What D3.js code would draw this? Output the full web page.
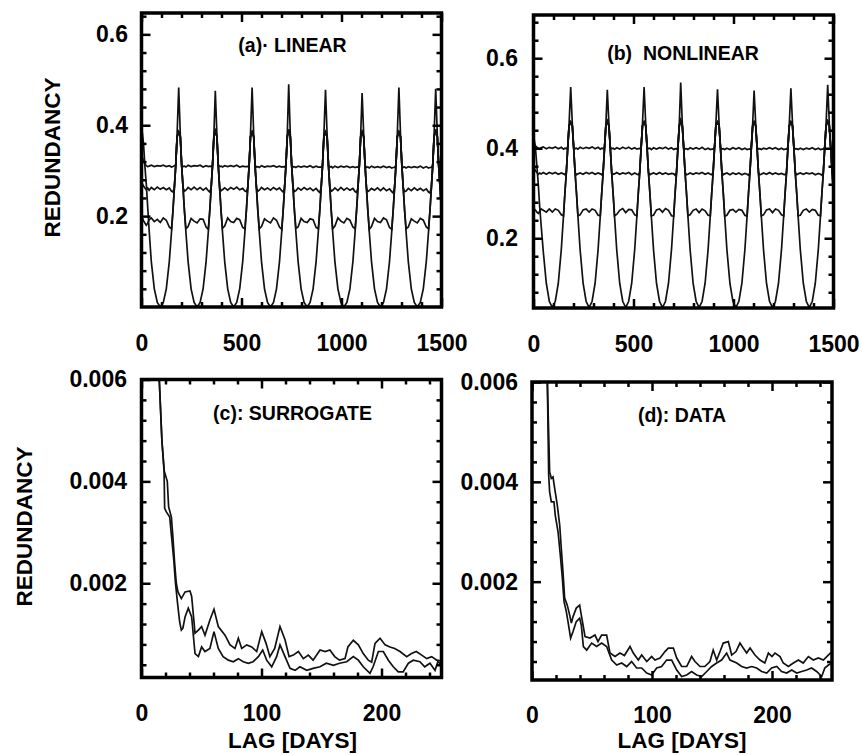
<!DOCTYPE html>
<meta charset="utf-8" />
<script src="https://d3js.org/d3.v7.min.js"></script>
<style>
  body { margin: 0; background: #fff; }
  svg text { font-family: "Liberation Sans", Arial, Helvetica, sans-serif; fill: #000; }
  .tick text { font-size: 23px; font-weight: bold; }
  .title { font-size: 19.5px; font-weight: bold; white-space: pre; }
  .axlabel { font-size: 22.5px; font-weight: bold; }
  .curve { fill: none; stroke: #111; stroke-width: 1.7px; }
</style>
<div id="fig"></div>
<script>
  // ---- (a) and (b): lag grid in days, one row per half-year cycle (trough mid-row, peak last)
  var lagAB = [0,
    10, 17, 24, 31, 38, 49, 64, 79, 94, 109, 124, 139, 150, 157, 164, 171, 178, 186,
    194, 201, 208, 215, 222, 233, 248, 263, 278, 293, 308, 323, 334, 341, 348, 355, 362, 369,
    377, 384, 391, 398, 405, 416, 431, 446, 461, 476, 491, 506, 517, 524, 531, 538, 545, 553,
    561, 568, 575, 582, 589, 600, 615, 630, 645, 660, 675, 690, 701, 708, 715, 722, 729, 736,
    744, 751, 758, 765, 772, 783, 798, 813, 828, 843, 858, 873, 884, 891, 898, 905, 912, 920,
    928, 935, 942, 949, 956, 967, 982, 997, 1012, 1027, 1042, 1057, 1068, 1075, 1082, 1089, 1096, 1103,
    1111, 1118, 1125, 1132, 1139, 1150, 1165, 1180, 1195, 1210, 1225, 1240, 1251, 1258, 1265, 1272, 1279, 1287,
    1295, 1302, 1309, 1316, 1323, 1334, 1349, 1364, 1379, 1394, 1409, 1424, 1435, 1442, 1449, 1456, 1463, 1471,
    1479, 1486, 1493, 1500];

  // (a) LINEAR
  var linOsc = [0.40,
    .36, .31, .27, .22, .17, .10, .04, .01, .00, .01, .04, .10, .165, .21, .26, .31, .38, .483,
    .38, .31, .26, .21, .165, .10, .04, .01, .00, .01, .04, .10, .165, .21, .26, .31, .38, .476,
    .38, .31, .26, .21, .165, .10, .04, .01, .00, .01, .04, .10, .165, .21, .26, .31, .38, .483,
    .38, .31, .26, .21, .165, .10, .04, .01, .00, .01, .04, .10, .165, .21, .26, .31, .38, .490,
    .38, .31, .26, .21, .165, .10, .04, .01, .00, .01, .04, .10, .165, .21, .26, .31, .38, .478,
    .38, .31, .26, .21, .165, .10, .04, .01, .00, .01, .04, .10, .165, .21, .26, .31, .38, .471,
    .38, .31, .26, .21, .165, .10, .04, .01, .00, .01, .04, .10, .165, .21, .26, .31, .38, .483,
    .38, .31, .26, .21, .165, .10, .04, .01, .00, .01, .04, .10, .165, .21, .26, .31, .38, .480,
    .38, .31, .26, .21];
  var linLow = [0.20,
    .19, .185, .18, .184, .192, .196, .188, .193, .186, .196, .191, .176, .172, .21, .26, .31, .375, .385,
    .375, .31, .26, .21, .172, .177, .195, .189, .185, .194, .193, .176, .171, .21, .26, .31, .375, .387,
    .375, .31, .26, .21, .173, .178, .196, .188, .186, .195, .192, .175, .172, .21, .26, .31, .375, .385,
    .375, .31, .26, .21, .172, .177, .194, .189, .185, .196, .191, .176, .171, .21, .26, .31, .375, .39,
    .375, .31, .26, .21, .173, .176, .195, .188, .186, .194, .192, .175, .172, .21, .26, .31, .375, .385,
    .375, .31, .26, .21, .172, .178, .196, .189, .185, .195, .191, .176, .172, .21, .26, .31, .375, .385,
    .375, .31, .26, .21, .171, .177, .195, .188, .186, .196, .192, .175, .171, .21, .26, .31, .375, .385,
    .375, .31, .26, .21, .172, .176, .194, .189, .185, .195, .191, .176, .172, .21, .26, .31, .375, .39,
    .375, .31, .26, .21];
  var linMid = [0.275,
    .266, .262, .258, .262, .257, .263, .258, .264, .259, .263, .258, .262, .255, .253, .262, .31, .375, .385,
    .375, .31, .262, .255, .257, .263, .258, .264, .258, .263, .257, .262, .256, .253, .262, .31, .375, .387,
    .375, .31, .262, .256, .258, .262, .257, .263, .259, .264, .258, .261, .255, .254, .262, .31, .375, .385,
    .375, .31, .262, .255, .257, .263, .258, .262, .257, .263, .258, .262, .256, .253, .262, .31, .375, .39,
    .375, .31, .262, .254, .256, .262, .257, .263, .258, .262, .256, .261, .255, .252, .262, .31, .375, .385,
    .375, .31, .262, .255, .257, .262, .256, .263, .257, .262, .257, .261, .254, .252, .262, .31, .375, .385,
    .375, .31, .262, .254, .256, .261, .257, .262, .256, .262, .256, .260, .254, .251, .262, .31, .375, .385,
    .375, .31, .262, .254, .255, .261, .256, .262, .257, .261, .256, .260, .253, .251, .262, .31, .375, .39,
    .375, .31, .262, .255];
  var linTop = [0.335,
    .322, .315, .311, .309, .31, .312, .309, .311, .31, .312, .309, .311, .308, .309, .311, .312, .375, .385,
    .375, .312, .309, .31, .308, .312, .309, .311, .31, .312, .308, .311, .309, .31, .309, .312, .375, .387,
    .375, .312, .309, .31, .308, .311, .309, .311, .309, .312, .308, .31, .309, .309, .309, .312, .375, .385,
    .375, .312, .308, .309, .307, .311, .308, .31, .309, .311, .308, .31, .308, .309, .308, .312, .375, .39,
    .375, .312, .308, .309, .307, .31, .308, .31, .308, .311, .307, .31, .308, .308, .308, .312, .375, .385,
    .375, .312, .308, .309, .306, .31, .307, .31, .308, .31, .307, .309, .307, .308, .308, .312, .375, .385,
    .375, .312, .307, .308, .306, .31, .307, .309, .307, .31, .307, .309, .306, .307, .307, .312, .375, .385,
    .375, .312, .307, .308, .306, .309, .307, .309, .307, .31, .306, .309, .306, .307, .307, .312, .375, .39,
    .375, .312, .307, .308];

  // (b) NONLINEAR
  var nonOsc = [0.43,
    .40, .36, .32, .27, .23, .17, .10, .06, .046, .06, .10, .175, .25, .30, .345, .40, .455, .536,
    .455, .40, .345, .30, .25, .175, .10, .06, .046, .06, .10, .175, .25, .30, .345, .40, .455, .530,
    .455, .40, .345, .30, .25, .175, .10, .06, .046, .06, .10, .175, .25, .30, .345, .40, .455, .536,
    .455, .40, .345, .30, .25, .175, .10, .06, .046, .06, .10, .175, .25, .30, .345, .40, .455, .546,
    .455, .40, .345, .30, .25, .175, .10, .06, .046, .06, .10, .175, .25, .30, .345, .40, .455, .531,
    .455, .40, .345, .30, .25, .175, .10, .06, .046, .06, .10, .175, .25, .30, .345, .40, .455, .528,
    .455, .40, .345, .30, .25, .175, .10, .06, .046, .06, .10, .175, .25, .30, .345, .40, .455, .533,
    .455, .40, .345, .30, .25, .175, .10, .06, .046, .06, .10, .175, .25, .30, .345, .40, .455, .541,
    .455, .40, .345, .30];
  var nonLow = [0.267,
    .262, .258, .255, .26, .265, .262, .258, .265, .258, .265, .262, .252, .25, .30, .345, .40, .45, .458,
    .45, .40, .345, .30, .25, .252, .263, .265, .258, .265, .262, .251, .25, .30, .345, .40, .45, .46,
    .45, .40, .345, .30, .25, .253, .262, .266, .257, .264, .263, .252, .25, .30, .345, .40, .45, .458,
    .45, .40, .345, .30, .25, .251, .263, .265, .258, .266, .262, .25, .249, .30, .345, .40, .45, .462,
    .45, .40, .345, .30, .25, .252, .262, .265, .257, .265, .261, .251, .25, .30, .345, .40, .45, .458,
    .45, .40, .345, .30, .249, .251, .262, .264, .258, .264, .262, .251, .249, .30, .345, .40, .45, .458,
    .45, .40, .345, .30, .25, .252, .263, .265, .257, .265, .262, .252, .25, .30, .345, .40, .45, .458,
    .45, .40, .345, .30, .25, .251, .262, .265, .258, .264, .262, .251, .25, .30, .345, .40, .45, .46,
    .45, .40, .345, .30];
  var nonMid = [0.36,
    .35, .346, .342, .345, .343, .346, .342, .346, .343, .346, .342, .345, .343, .341, .346, .40, .45, .458,
    .45, .40, .346, .341, .343, .345, .342, .346, .343, .346, .342, .345, .343, .341, .346, .40, .45, .46,
    .45, .40, .346, .342, .343, .346, .342, .345, .343, .346, .341, .345, .342, .341, .346, .40, .45, .458,
    .45, .40, .346, .341, .343, .345, .342, .346, .342, .345, .342, .344, .343, .34, .346, .40, .45, .462,
    .45, .40, .346, .341, .342, .345, .342, .345, .343, .346, .342, .345, .342, .341, .346, .40, .45, .458,
    .45, .40, .346, .341, .343, .345, .341, .345, .342, .345, .341, .344, .342, .34, .346, .40, .45, .458,
    .45, .40, .346, .341, .342, .345, .342, .346, .342, .345, .342, .344, .342, .341, .346, .40, .45, .458,
    .45, .40, .346, .341, .343, .345, .342, .345, .343, .345, .341, .344, .342, .34, .346, .40, .45, .46,
    .45, .40, .346, .342];
  var nonTop = [0.415,
    .405, .402, .40, .398, .401, .403, .399, .402, .40, .403, .399, .402, .398, .40, .399, .402, .45, .458,
    .45, .402, .399, .40, .398, .402, .399, .402, .40, .403, .399, .402, .398, .40, .399, .402, .45, .46,
    .45, .402, .399, .40, .398, .401, .398, .402, .399, .402, .398, .401, .398, .399, .399, .402, .45, .458,
    .45, .402, .399, .40, .397, .401, .398, .401, .399, .402, .398, .401, .397, .399, .398, .402, .45, .462,
    .45, .402, .398, .399, .397, .401, .398, .401, .398, .402, .397, .40, .397, .398, .398, .402, .45, .458,
    .45, .402, .398, .399, .397, .40, .397, .401, .398, .401, .397, .40, .397, .398, .398, .402, .45, .458,
    .45, .402, .398, .399, .397, .40, .398, .401, .398, .401, .397, .40, .397, .398, .398, .402, .45, .458,
    .45, .402, .398, .399, .397, .40, .397, .40, .398, .401, .397, .40, .397, .398, .398, .402, .45, .46,
    .45, .402, .398, .399];

  // ---- (c) SURROGATE
  var surUpLag = [10, 14.8, 17, 19, 21.5, 22.6, 24.9, 26.2, 27.6, 29, 30.4, 33.2, 36.3, 40.4, 41.8, 44.6, 47.4, 50.1, 52.9, 57,
    60.4, 64, 69.6, 73.8, 77.9, 80.7, 83.5, 87.7, 91.8, 96, 100.2, 103.8, 107, 111, 115.4, 119.6, 123, 126.5, 130.7, 134.9,
    139, 143, 148.8, 153, 157, 161, 165, 169.6, 172, 176.5, 180.7, 184.8, 189, 191.8, 194.6, 198.8, 203, 207, 211, 215.4,
    221, 225, 229, 233.5, 237.7, 241.8, 246, 250];
  var surUp = [.0085, .006, .0048, .0042, .0040, .0035, .0033, .0029, .0024, .0020, .00183, .0017, .00183, .00185, .00174, .00102, .00108, .00115, .00098, .00128,
    .00149, .00115, .00098, .00079, .00072, .00092, .00072, .00079, .00075, .00066, .00105, .00082, .00056, .00072, .00115, .00089, .00056, .00059, .00066, .00052,
    .00059, .00049, .00069, .00066, .00069, .00056, .00049, .00052, .00075, .00088, .00079, .00062, .00049, .00045, .00082, .00092, .00079, .00075, .00072, .00066,
    .00056, .00062, .00066, .00059, .00052, .00056, .00049, .00047];
  var surLoLag = [10, 14.8, 17, 18.8, 19.3, 20.7, 23.5, 24.9, 27, 28.2, 29.9, 31.8, 33.2, 34.5, 36.3, 39, 41.8, 44.6, 47.4, 50.1,
    52.9, 57, 60.4, 64, 68, 72.4, 76.5, 80.7, 84.8, 89, 93, 97.4, 101, 104.3, 108.5, 112.6, 115.4, 119.6, 123.8, 128,
    132, 137.7, 143, 148.8, 154, 160, 165, 171, 176.5, 180.7, 184.8, 190.4, 193, 197.4, 201.5, 205.7, 209.8, 214, 218, 222.4,
    226.5, 232, 236, 240.4, 244.6, 247, 250];
  var surLo = [.0085, .006, .0048, .0042, .00347, .0034, .0033, .00295, .00243, .00203, .00164, .00124, .00108, .00112, .00134, .00151, .00134, .00062, .00056, .00075,
    .00066, .00072, .00105, .00072, .00056, .00049, .00046, .00052, .00046, .00043, .00046, .00056, .00069, .00049, .00036, .00056, .00079, .00056, .00033, .00029,
    .00036, .00029, .00033, .00036, .00043, .00039, .00043, .00046, .00056, .00049, .00036, .00023, .00036, .00066, .00066, .00049, .00036, .00026, .00026, .00043,
    .00049, .00046, .00036, .00043, .00029, .00046, .0004];

  // ---- (d) DATA
  var datUpLag = [10, 12.8, 14.7, 16.1, 17.5, 18.9, 21.1, 23.1, 24.4, 25.8, 27.2, 29.4, 31.4, 32.8, 34.2, 36.9, 39.7, 41.1, 44.2, 48.3,
    52.5, 55, 58, 62.2, 65, 69.2, 73.3, 77, 81.7, 84.4, 88.6, 91.4, 95.6, 99.7, 102.5, 106.7, 110.8, 113.6, 117.8, 120.6,
    124.7, 128.9, 133, 135.8, 140, 144, 148.3, 151, 153.9, 156.7, 159.4, 163.6, 166.4, 170, 173.3, 176, 178.9, 181.7, 185.8, 190,
    194, 197, 200, 202.5, 206.7, 209.4, 213.6, 217.8, 222, 226, 230.3, 234.4, 238.6, 242.8, 246.9, 250];
  var datUp = [.0078, .006, .0042, .00407, .0041, .00387, .00353, .00313, .00267, .0022, .00167, .00153, .00133, .00117, .0013, .00147, .00153, .00133, .0009, .00087,
    .00093, .0008, .00093, .00093, .00057, .0005, .00057, .00052, .0007, .00057, .00043, .00053, .0004, .0005, .00043, .00047, .0006, .00067, .00067, .00047,
    .0003, .0003, .0005, .0004, .0003, .0003, .0004, .00063, .00043, .0006, .00077, .0008, .00053, .0006, .00077, .00067, .00057, .00067, .00053, .00043,
    .00037, .00057, .0005, .00057, .0005, .00037, .0003, .00037, .00043, .00037, .0005, .00043, .00047, .00043, .00053, .0006];
  var datLoLag = [10, 12.8, 13.9, 14.7, 16.1, 18.3, 19.4, 21.7, 23.6, 25.3, 26.7, 28.6, 30, 32.2, 34.2, 36.9, 39.7, 41.1, 42.8, 45.6,
    49.7, 53.9, 58, 62.2, 66.4, 70.6, 74.7, 78.9, 83, 87.2, 91.4, 95.6, 99.7, 103.9, 108, 112.2, 116.4, 120.6, 124.7, 128.9,
    133, 137.2, 141.4, 145.6, 149.7, 153.9, 158, 162.2, 165, 170.6, 174.7, 178.9, 183, 187.2, 191.4, 195.6, 199.7, 204, 208, 212.2,
    216.4, 220.6, 224.7, 228.9, 233, 237.2, 241.4, 244, 247, 250];
  var datLo = [.0078, .006, .00413, .0038, .0036, .0036, .00333, .003, .00253, .00207, .0016, .0014, .0012, .00087, .001, .0012, .00127, .00113, .0007, .00063,
    .00077, .0007, .00077, .0007, .00043, .00033, .00037, .0003, .0004, .00027, .00027, .00017, .00013, .00027, .0003, .00043, .00043, .00023, .0001, .00013,
    .0002, .00013, .0001, .0002, .0003, .00037, .00043, .00057, .00043, .00037, .0003, .00027, .0003, .00027, .0002, .00017, .00027, .0003, .0002, .00017,
    .00023, .00017, .0002, .00023, .00027, .0002, .0001, .00027, .00033, .00037];

  // ---- tick values
  var lagTicksLong = [0, 500, 1000, 1500];
  var lagTicksShort = d3.range(100, 1500, 100).filter(function (v) { return v % 500 !== 0; });
  var dayTicksLong = [0, 100, 200];
  var dayTicksShort = d3.range(20, 250, 20).filter(function (v) { return v % 100 !== 0; });
  var redTicksLong = [0.2, 0.4, 0.6];
  var redTicksShort = d3.range(1, 18).filter(function (i) { return i % 5 !== 0; })
    .map(function (i) { return +(i * 0.04).toFixed(2); });
  var smallTicksLong = [0.002, 0.004, 0.006];
  var smallTicksShort = d3.range(1, 15).filter(function (i) { return i % 5 !== 0; })
    .map(function (i) { return +(i * 0.0004).toFixed(4); });

  var width = 862, height = 755;
  var svg = d3.select("#fig").append("svg").attr("width", width).attr("height", height);

  function drawPanel(p) {
    var x = d3.scaleLinear().domain(p.xDomain).range([p.left, p.right]);
    var y = d3.scaleLinear().domain(p.yDomain).range([p.bottom, p.top]);
    var g = svg.append("g");

    g.append("clipPath").attr("id", p.id).append("rect")
      .attr("x", p.left).attr("y", p.top)
      .attr("width", p.right - p.left).attr("height", p.bottom - p.top);

    var line = d3.line()
      .x(function (d) { return x(d[0]); })
      .y(function (d) { return y(d[1]); });

    g.append("g").attr("clip-path", "url(#" + p.id + ")")
      .selectAll("path").data(p.series).enter().append("path")
      .attr("class", "curve")
      .attr("d", function (s) { return line(d3.zip(s[0], s[1])); });

    var axes = [
      [d3.axisBottom(x).tickValues(p.xMinor).tickSize(-5).tickFormat(""), 0, p.bottom],
      [d3.axisBottom(x).tickValues(p.xMajor).tickSize(-9).tickPadding(p.xPad).tickFormat(d3.format("d")), 0, p.bottom],
      [d3.axisTop(x).tickValues(p.xMinor).tickSize(-5).tickFormat(""), 0, p.top],
      [d3.axisTop(x).tickValues(p.xMajor).tickSize(-9).tickFormat(""), 0, p.top],
      [d3.axisLeft(y).tickValues(p.yMinor).tickSize(-5).tickFormat(""), p.left, 0],
      [d3.axisLeft(y).tickValues(p.yMajor).tickSize(-9).tickPadding(p.yPad).tickFormat(p.yFmt), p.left, 0],
      [d3.axisRight(y).tickValues(p.yMinor).tickSize(-5).tickFormat(""), p.right, 0],
      [d3.axisRight(y).tickValues(p.yMajor).tickSize(-9).tickFormat(""), p.right, 0]
    ];
    axes.forEach(function (a) {
      var ag = g.append("g")
        .attr("transform", "translate(" + a[1] + "," + a[2] + ")")
        .call(a[0]);
      ag.select(".domain").remove();
      ag.selectAll("line").attr("stroke", "#000").attr("stroke-width", 2.5);
    });

    g.append("rect")
      .attr("x", p.left).attr("y", p.top)
      .attr("width", p.right - p.left).attr("height", p.bottom - p.top)
      .attr("fill", "none").attr("stroke", "#000").attr("stroke-width", 3.5);

    g.append("text").attr("class", "title")
      .attr("x", p.titleX).attr("y", p.titleY)
      .attr("text-anchor", "middle")
      .text(p.title);
  }

  drawPanel({
    id: "pa", left: 141.5, right: 441.5, top: 13, bottom: 307,
    xDomain: [0, 1500], yDomain: [0, 0.647],
    xMajor: lagTicksLong, xMinor: lagTicksShort,
    yMajor: redTicksLong, yMinor: redTicksShort.filter(function (v) { return v < 0.647; }),
    yFmt: d3.format(".1f"), xPad: 28, yPad: 13.5,
    title: "(a)\u00b7 LINEAR", titleX: 292.5, titleY: 52,
    series: [[lagAB, linOsc], [lagAB, linLow], [lagAB, linMid], [lagAB, linTop]]
  });

  drawPanel({
    id: "pb", left: 533.5, right: 833.5, top: 15, bottom: 308,
    xDomain: [0, 1500], yDomain: [0.045, 0.696],
    xMajor: lagTicksLong, xMinor: lagTicksShort,
    yMajor: redTicksLong, yMinor: redTicksShort.filter(function (v) { return v > 0.045; }),
    yFmt: d3.format(".1f"), xPad: 28, yPad: 15.5,
    title: "(b)  NONLINEAR", titleX: 683, titleY: 60,
    series: [[lagAB, nonOsc], [lagAB, nonLow], [lagAB, nonMid], [lagAB, nonTop]]
  });

  drawPanel({
    id: "pc", left: 141.5, right: 441.5, top: 379.5, bottom: 677.5,
    xDomain: [0, 250], yDomain: [0.00015, 0.006],
    xMajor: dayTicksLong, xMinor: dayTicksShort,
    yMajor: smallTicksLong, yMinor: smallTicksShort,
    yFmt: d3.format(".3f"), xPad: 27, yPad: 14.5,
    title: "(c): SURROGATE", titleX: 292.5, titleY: 420,
    series: [[surUpLag, surUp], [surLoLag, surLo]]
  });

  drawPanel({
    id: "pd", left: 532, right: 832, top: 382, bottom: 680,
    xDomain: [0, 250], yDomain: [0.00003, 0.006],
    xMajor: dayTicksLong, xMinor: dayTicksShort,
    yMajor: smallTicksLong, yMinor: smallTicksShort,
    yFmt: d3.format(".3f"), xPad: 26.4, yPad: 14,
    title: "(d): DATA", titleX: 682, titleY: 421.5,
    series: [[datUpLag, datUp], [datLoLag, datLo]]
  });

  // axis titles
  [[60, 157.5], [31.5, 526.5]].forEach(function (c) {
    svg.append("text").attr("class", "axlabel")
      .attr("transform", "translate(" + c[0] + "," + c[1] + ") rotate(-90)")
      .attr("text-anchor", "middle")
      .text("REDUNDANCY");
  });
  [292.5, 682].forEach(function (cx) {
    svg.append("text").attr("class", "axlabel")
      .attr("x", cx).attr("y", 748)
      .attr("text-anchor", "middle")
      .text("LAG [DAYS]");
  });
</script>
